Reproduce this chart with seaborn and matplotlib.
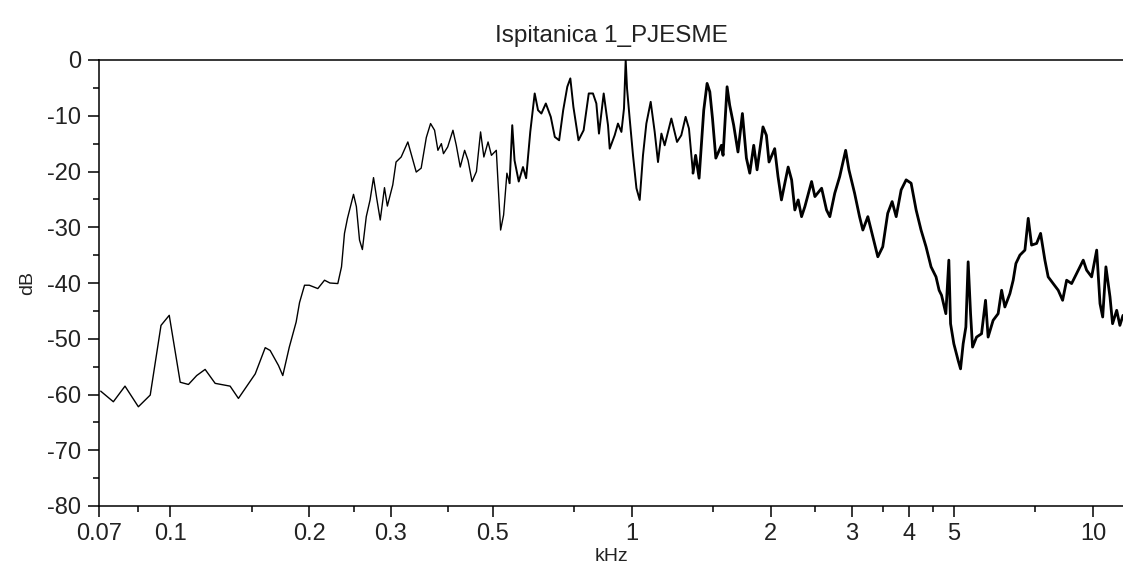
import matplotlib
matplotlib.use("Agg")
import matplotlib.pyplot as plt
import seaborn as sns
import pandas as pd
from matplotlib.ticker import FixedLocator, FixedFormatter, NullFormatter

# spectrum (kHz, dB)
freq_khz = [
    0.0706, 0.0752, 0.0797, 0.0852, 0.0904, 0.0954, 0.0994, 0.105, 0.1094, 0.114,
    0.1189, 0.125, 0.1347, 0.1404, 0.1527, 0.1605, 0.1645, 0.1715, 0.1752, 0.1810,
    0.1873, 0.1905, 0.1953, 0.200, 0.2087, 0.2158, 0.2217, 0.2306, 0.2349, 0.2384,
    0.242, 0.2494, 0.2530, 0.257, 0.2607, 0.2658, 0.2709, 0.2756, 0.2800, 0.285,
    0.2911, 0.2953, 0.3034, 0.3084, 0.3164, 0.3271, 0.3411, 0.3496, 0.3587, 0.3664,
    0.3738, 0.3801, 0.3867, 0.3908, 0.3991, 0.4097, 0.4166, 0.4249, 0.4343, 0.4418,
    0.4507, 0.4607, 0.4703, 0.4781, 0.4882, 0.4965, 0.5087, 0.5172, 0.5198, 0.5276,
    0.5364, 0.5436, 0.5509, 0.5572, 0.569, 0.5812, 0.5904, 0.6027, 0.6162, 0.6265,
    0.6371, 0.6514, 0.6677, 0.6813, 0.6962, 0.7104, 0.7251, 0.7362, 0.7475, 0.7668,
    0.7867, 0.8071, 0.8242, 0.8383, 0.8493, 0.8696, 0.8885, 0.8961, 0.9186, 0.9338,
    0.95, 0.9623, 0.9705, 0.977, 0.99, 1.0066, 1.024, 1.0408, 1.058, 1.076,
    1.0995, 1.1217, 1.1404, 1.16, 1.179, 1.219, 1.254, 1.281, 1.309, 1.331,
    1.358, 1.376, 1.40, 1.433, 1.457, 1.477, 1.497, 1.522, 1.565, 1.578,
    1.61, 1.631, 1.664, 1.70, 1.738, 1.773, 1.803, 1.839, 1.87, 1.926,
    1.959, 1.985, 2.042, 2.076, 2.112, 2.148, 2.184, 2.222, 2.258, 2.296,
    2.335, 2.374, 2.455, 2.496, 2.581, 2.645, 2.689, 2.756, 2.825, 2.91,
    2.958, 3.043, 3.119, 3.171, 3.251, 3.333, 3.417, 3.502, 3.59, 3.67,
    3.745, 3.839, 3.936, 4.035, 4.137, 4.24, 4.347, 4.457, 4.569, 4.64,
    4.697, 4.799, 4.871, 4.913, 4.994, 5.103, 5.164, 5.232, 5.303, 5.364,
    5.429, 5.483, 5.594, 5.735, 5.85, 5.926, 6.076, 6.23, 6.339, 6.443,
    6.607, 6.716, 6.808, 6.945, 7.121, 7.24, 7.362, 7.549, 7.701, 7.868,
    7.998, 8.2, 8.409, 8.596, 8.77, 8.991, 9.218, 9.528, 9.69, 9.935,
    10.19, 10.36, 10.5, 10.67, 10.89, 11.03, 11.26, 11.44, 11.62,
]
level_db = [
    -59.4, -61.3, -58.5, -62.2, -60.1, -47.6, -45.8, -57.8, -58.2, -56.6,
    -55.5, -58.0, -58.5, -60.7, -56.3, -51.6, -52.1, -54.8, -56.6, -51.5,
    -47.0, -43.5, -40.4, -40.4, -41.0, -39.5, -40.0, -40.1, -37.1, -31.1,
    -28.4, -24.1, -26.3, -32.3, -34.0, -28.1, -25.1, -21.1, -24.8, -28.7,
    -22.9, -26.2, -22.4, -18.3, -17.4, -14.7, -20.1, -19.4, -13.9, -11.4,
    -12.6, -16.2, -15.0, -16.8, -15.6, -12.6, -15.3, -19.2, -16.2, -18.0,
    -21.8, -20.0, -12.9, -17.4, -14.7, -17.1, -16.2, -27.2, -30.5, -27.8,
    -20.3, -22.1, -11.7, -18.0, -21.8, -19.2, -21.2, -12.9, -6.0, -9.0,
    -9.6, -7.8, -10.2, -13.8, -14.4, -9.0, -4.8, -3.3, -8.4, -14.4,
    -12.6, -6.0, -6.0, -7.8, -13.2, -6.0, -11.7, -15.9, -13.5, -11.4,
    -12.9, -8.7, 0.0, -5.1, -10.5, -17.1, -23.0, -25.1, -17.1, -11.4,
    -7.5, -12.9, -18.3, -13.2, -15.3, -10.5, -14.7, -13.5, -10.2, -12.3,
    -20.3, -17.1, -21.2, -9.0, -4.2, -5.7, -10.5, -17.6, -15.3, -17.1,
    -4.8, -8.1, -11.7, -16.5, -9.6, -17.6, -20.3, -15.3, -19.7, -12.0,
    -13.5, -18.3, -15.9, -20.9, -25.1, -22.1, -19.2, -21.5, -26.9, -25.1,
    -28.1, -26.3, -21.8, -24.5, -23.0, -26.9, -28.1, -23.9, -20.9, -16.2,
    -19.7, -23.9, -28.1, -30.5, -28.1, -31.7, -35.3, -33.5, -27.5, -25.4,
    -28.1, -23.3, -21.5, -22.1, -26.9, -30.5, -33.5, -37.1, -38.9, -41.3,
    -42.2, -45.5, -35.9, -47.3, -50.9, -53.9, -55.4, -50.9, -47.9, -36.2,
    -45.5, -51.5, -49.7, -49.1, -43.1, -49.7, -46.7, -45.5, -41.3, -44.3,
    -41.9, -39.5, -36.5, -35.0, -34.1, -28.4, -33.2, -32.9, -31.1, -35.9,
    -38.9, -40.1, -41.3, -43.1, -39.5, -40.1, -38.3, -35.9, -37.7, -38.9,
    -34.1, -43.7, -46.1, -37.1, -42.5, -47.3, -44.9, -47.6, -45.8,
]

xtick_vals = [0.07, 0.1, 0.2, 0.3, 0.5, 1, 2, 3, 4, 5, 10]
xtick_labels = ["0.07", "0.1", "0.2", "0.3", "0.5", "1", "2", "3", "4", "5", "10"]
xminor_vals = [0.085, 0.15, 0.25, 0.4, 0.75, 1.5, 2.5, 3.5, 4.5, 7.5]
ytick_vals = [-80, -70, -60, -50, -40, -30, -20, -10, 0]
yminor_vals = [-75, -65, -55, -45, -35, -25, -15, -5]

sns.set_theme(style="ticks")
plt.rcParams['font.family'] = ['Liberation Sans', 'DejaVu Sans']
plt.rcParams['axes.unicode_minus'] = False

df = pd.DataFrame({"kHz": freq_khz, "dB": level_db})

fig = plt.figure(figsize=(11.23, 5.69), dpi=100)
ax = fig.add_axes([99 / 1123, 1 - 506 / 569, 1 - 99 / 1123, (506 - 60) / 569])

# the dense, noisy upper part of the spectrum renders heavier in the original
segments = [(0.0, 0.55, 1.0), (0.5436, 1.36, 1.4), (1.358, 20.0, 2.0)]
for lo, hi, lw in segments:
    part = df[(df["kHz"] >= lo) & (df["kHz"] <= hi)]
    sns.lineplot(data=part, x="kHz", y="dB", color="black", linewidth=lw,
                 estimator=None, sort=False, ax=ax)

ax.set_xscale("log")
ax.set_xlim(0.07, 11.62)
ax.set_ylim(-80, 0)

ax.xaxis.set_major_locator(FixedLocator(xtick_vals))
ax.xaxis.set_major_formatter(FixedFormatter(xtick_labels))
ax.xaxis.set_minor_locator(FixedLocator(xminor_vals))
ax.xaxis.set_minor_formatter(NullFormatter())
ax.yaxis.set_major_locator(FixedLocator(ytick_vals))
ax.yaxis.set_minor_locator(FixedLocator(yminor_vals))

txt = "#222222"
ax.tick_params(which="major", direction="out", length=8, width=1.1,
               color="black", labelsize=17, labelcolor=txt)
ax.tick_params(which="minor", direction="out", length=4.3, width=1.1, color="black")
ax.tick_params(axis="y", pad=5)
ax.tick_params(axis="x", pad=4.5)

for side in ["left", "bottom", "top"]:
    ax.spines[side].set_linewidth(1.1)
    ax.spines[side].set_color("black")
ax.spines["right"].set_visible(False)

ax.set_title("Ispitanica 1_PJESME", fontsize=17.5, color=txt, pad=13)
ax.set_xlabel("kHz", fontsize=14, color=txt, labelpad=2)
ax.set_ylabel("dB", fontsize=14, color=txt, labelpad=8)

fig.savefig("out.png", dpi=100)
